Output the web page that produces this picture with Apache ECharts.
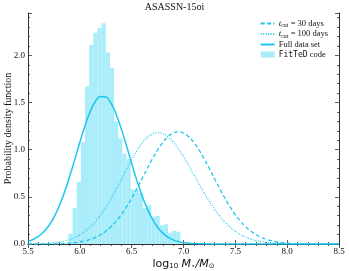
<!DOCTYPE html>
<html><head><meta charset="utf-8">
<script src="https://cdn.jsdelivr.net/npm/echarts@6/dist/echarts.min.js"></script>
<style>html,body{margin:0;padding:0;background:#fff}#c{width:349px;height:271px}</style>
</head><body><div id="c"></div>
<script>
// log10 M / Msun sample points for the curves
const massGrid = [5.5,5.55,5.6,5.65,5.7,5.75,5.8,5.85,5.9,5.95,6.0,6.05,6.1,6.15,6.2,6.25,6.3,6.35,6.4,6.45,6.5,6.55,6.6,6.65,6.7,6.75,6.8,6.85,6.9,6.95,7.0,7.05,7.1,7.15,7.2,7.25,7.3,7.35,7.4,7.45,7.5,7.55,7.6,7.65,7.7,7.75,7.8,7.85,7.9,7.95,8.0,8.05,8.1,8.15,8.2,8.25,8.3,8.35,8.4,8.45,8.5];
const pdfFull   = [0.028,0.048,0.080,0.127,0.193,0.283,0.400,0.543,0.710,0.892,1.079,1.255,1.404,1.511,1.565,1.559,1.494,1.377,1.221,1.042,0.855,0.675,0.513,0.375,0.263,0.178,0.116,0.072,0.044,0.025,0.014,0.008,0.004,0.002,0.001,0,0,0,0,0,0,0,0,0,0,0,0,0,0,0,0,0,0,0,0,0,0,0,0,0,0];
const pdfCut100 = [0.001,0.002,0.003,0.005,0.009,0.014,0.021,0.032,0.047,0.068,0.096,0.133,0.180,0.237,0.307,0.387,0.479,0.579,0.684,0.790,0.893,0.988,1.068,1.129,1.167,1.180,1.169,1.135,1.082,1.011,0.927,0.834,0.736,0.636,0.540,0.450,0.367,0.294,0.231,0.178,0.135,0.100,0.073,0.052,0.036,0.025,0.017,0.011,0.007,0.005,0.003,0.002,0.001,0.001,0,0,0,0,0,0,0];
const pdfCut30  = [0,0,0,0.001,0.001,0.002,0.003,0.006,0.009,0.014,0.022,0.033,0.049,0.070,0.099,0.136,0.183,0.242,0.311,0.393,0.485,0.586,0.692,0.799,0.902,0.997,1.077,1.138,1.177,1.190,1.177,1.138,1.077,0.997,0.902,0.799,0.692,0.586,0.485,0.393,0.311,0.242,0.183,0.136,0.099,0.070,0.049,0.033,0.022,0.014,0.009,0.006,0.003,0.002,0.001,0.001,0,0,0,0,0];
// FitTeD histogram
const binStarts = [5.89,5.93,5.97,6.01,6.05,6.09,6.13,6.17,6.21,6.25,6.29,6.33,6.37,6.41,6.45,6.49,6.53,6.57,6.61,6.65,6.69,6.73,6.77,6.81,6.85,6.89,6.93];
const binWidth = 0.04;
const histDensity = [0.11,0.38,0.66,1.08,1.67,2.11,2.24,2.29,2.34,2.03,1.87,1.30,1.12,0.96,0.90,0.58,0.57,0.54,0.38,0.41,0.29,0.30,0.20,0.21,0.12,0.14,0.13];
const xTickLabels = ['5.5','6.0','6.5','7.0','7.5','8.0','8.5'];
const yTickLabels = ['0.0','0.5','1.0','1.5','2.0'];

const lineColor = '#1cc6ee';
const histColor = '#a9ecfa';
const axisColor = '#333';
const serif = '"Liberation Serif", "DejaVu Serif", serif';

const chart = echarts.init(document.getElementById('c'), null, {renderer:'canvas'});
const pairs = arr => massGrid.map((x,i)=>[x, arr[i]]);

const baseAxis = {
  axisLine:{show:true, lineStyle:{color:axisColor, width:1}},
  axisTick:{show:true, inside:true, length:4, lineStyle:{color:axisColor, width:0.8}},
  minorTick:{show:true, splitNumber:5, length:2, lineStyle:{color:axisColor, width:0.8}},
  splitLine:{show:false}
};

chart.setOption({
  animation:false,
  title:{text:'ASASSN-15oi', left:'center', top:0, padding:[2,5], textStyle:{fontFamily:serif, fontSize:10, fontWeight:'normal', color:'#111'}},
  grid:{left:28, right:10, top:13, bottom:27, containLabel:false, outerBoundsMode:'none'},
  legend:{
    orient:'vertical', right:16, top:14, itemWidth:14, itemHeight:6, itemGap:1,
    itemStyle:{opacity:0},
    data:[{name:'cut30'},{name:'cut100'},{name:'full'},{name:'fitted', icon:'rect', itemStyle:{opacity:1, color:histColor}}],
    formatter: function(n){
      if(n==='cut30') return '{t|t}{s|cut}{n| = 30 days}';
      if(n==='cut100') return '{t|t}{s|cut}{n| = 100 days}';
      if(n==='full') return '{n|Full data set}';
      return '{m|FitTeD}{n| code}';
    },
    textStyle:{fontFamily:serif, fontSize:8, color:'#111', padding:[0,0,0,-1],
      rich:{
        t:{fontFamily:serif, fontStyle:'italic', fontSize:9, color:'#111', height:10},
        s:{fontFamily:serif, fontSize:6, color:'#111', verticalAlign:'bottom', padding:[2,0,0,0]},
        n:{fontFamily:serif, fontSize:8.5, color:'#111', height:10},
        m:{fontFamily:'"DejaVu Sans Mono", "Liberation Mono", monospace', fontSize:8, color:'#111', height:10}
      }}
  },
  xAxis:[
    Object.assign({}, baseAxis, {type:'value', min:5.5, max:8.5, interval:0.5, position:'bottom',
      axisLabel:{color:'#111', fontFamily:serif, fontSize:9, margin:3,
        formatter:v=>{const s=v.toFixed(1); return xTickLabels.indexOf(s)>=0?s:'';}},
      name:'{a|log}{s|10}{i| M}{s|⋆}{i|/M}{s|⊙}', nameLocation:'middle', nameGap:14, nameMoveOverlap:false,
      nameTextStyle:{rich:{
        a:{fontFamily:'"DejaVu Sans", sans-serif', fontSize:11, color:'#111'},
        s:{fontFamily:'"DejaVu Sans", sans-serif', fontSize:7, color:'#111', verticalAlign:'bottom', padding:[5,0,0,0]},
        i:{fontFamily:'"DejaVu Sans", sans-serif', fontStyle:'italic', fontSize:11, color:'#111'}
      }}}),
    Object.assign({}, baseAxis, {type:'value', min:5.5, max:8.5, interval:0.5, position:'top',
      axisLabel:{show:false}})
  ],
  yAxis:[
    Object.assign({}, baseAxis, {type:'value', min:0, max:2.45, interval:0.5, position:'left',
      axisLabel:{color:'#111', fontFamily:serif, fontSize:9, margin:3, showMaxLabel:false,
        formatter:v=>{const s=v.toFixed(1); return yTickLabels.indexOf(s)>=0?s:'';}},
      name:'Probability density function', nameLocation:'middle', nameGap:15, nameMoveOverlap:false,
      nameTextStyle:{fontFamily:serif, fontSize:10, color:'#111'}}),
    Object.assign({}, baseAxis, {type:'value', min:0, max:2.45, interval:0.5, position:'right',
      axisLabel:{show:false}})
  ],
  series:[
    {name:'fitted', type:'custom', xAxisIndex:0, yAxisIndex:0, itemStyle:{color:histColor},
      data: binStarts.map((s,i)=>[s, s+binWidth, histDensity[i]]),
      encode:{x:[0,1], y:2},
      renderItem:function(params, api){
        const p0 = api.coord([api.value(0), api.value(2)]);
        const p1 = api.coord([api.value(1), 0]);
        return {type:'rect', shape:{x:p0[0], y:p0[1], width:p1[0]-p0[0], height:p1[1]-p0[1]},
          style:{fill:histColor}};
      }, z:1},
    {name:'cut30', type:'line', data:pairs(pdfCut30), smooth:true, symbol:'none',
      lineStyle:{color:lineColor, width:1.3, type:[4,2.5]}, itemStyle:{color:lineColor}, z:3},
    {name:'cut100', type:'line', data:pairs(pdfCut100), smooth:true, symbol:'none',
      lineStyle:{color:lineColor, width:1.2, type:[1,1.5]}, itemStyle:{color:lineColor}, z:3},
    {name:'full', type:'line', data:pairs(pdfFull), smooth:true, symbol:'none',
      lineStyle:{color:lineColor, width:1.5}, itemStyle:{color:lineColor}, z:4}
  ]
});
</script></body></html>
